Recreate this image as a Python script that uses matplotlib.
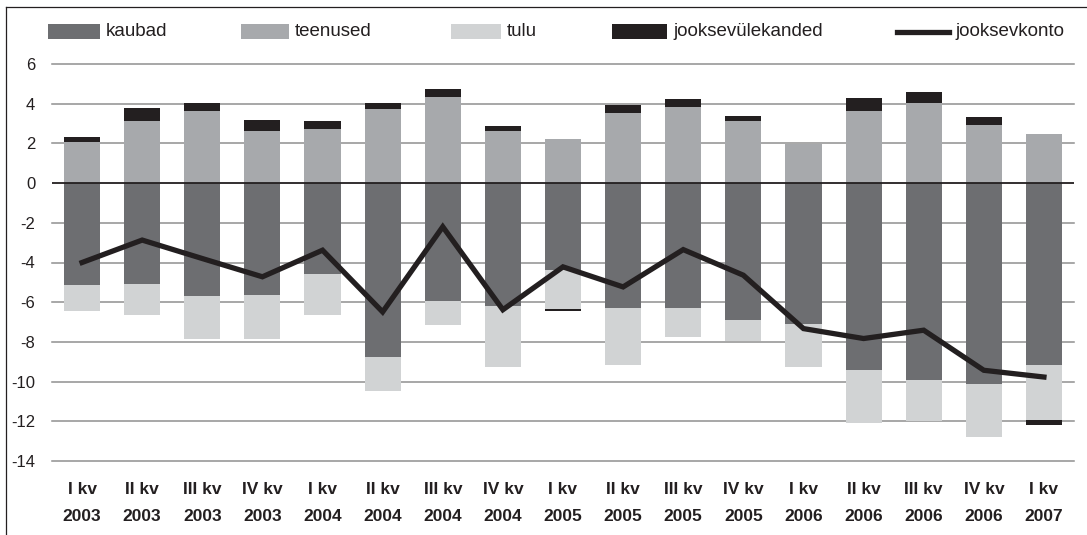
import matplotlib
matplotlib.use("Agg")
import matplotlib.pyplot as plt
from matplotlib.patches import Rectangle
from matplotlib.lines import Line2D
import numpy as np

plt.rcParams['font.family'] = ['Liberation Sans', 'DejaVu Sans']

quarters = ["I kv\n2003", "II kv\n2003", "III kv\n2003", "IV kv\n2003",
            "I kv\n2004", "II kv\n2004", "III kv\n2004", "IV kv\n2004",
            "I kv\n2005", "II kv\n2005", "III kv\n2005", "IV kv\n2005",
            "I kv\n2006", "II kv\n2006", "III kv\n2006", "IV kv\n2006",
            "I kv\n2007"]
kaubad = [-5.14, -5.09, -5.68, -5.63, -4.57, -8.77, -5.95, -6.19,
          -4.39, -6.30, -6.30, -6.91, -7.11, -9.43, -9.93, -10.14, -9.18]
teenused = [2.05, 3.14, 3.65, 2.64, 2.74, 3.75, 4.35, 2.64,
            2.22, 3.55, 3.85, 3.13, 1.97, 3.65, 4.03, 2.92, 2.47]
tulu = [-1.30, -1.55, -2.19, -2.24, -2.07, -1.70, -1.19, -3.07,
        -1.93, -2.86, -1.45, -1.04, -2.15, -2.66, -2.07, -2.65, -2.74]
jooksevylekanded = [0.29, 0.64, 0.38, 0.54, 0.39, 0.28, 0.39, 0.23,
                    -0.12, 0.38, 0.39, 0.25, 0.0, 0.64, 0.56, 0.41, -0.27]
jooksevkonto = [-4.0, -2.87, -3.8, -4.72, -3.38, -6.49, -2.2, -6.38,
                -4.22, -5.23, -3.35, -4.64, -7.33, -7.83, -7.41, -9.43, -9.77]
yticks = [6, 4, 2, 0, -2, -4, -6, -8, -10, -12, -14]

c_kaubad = "#6d6e71"
c_teenused = "#a7a9ac"
c_tulu = "#d1d3d4"
c_black = "#231f20"

W, H = 1087, 535
fig = plt.figure(figsize=(W / 100, H / 100), dpi=100)
ax = fig.add_axes([52 / W, 1 - 461 / H, (1074 - 52) / W, (461 - 64) / H])

x = np.arange(len(quarters))
kb = np.array(kaubad)
tb = np.array(teenused)
tl = np.array(tulu)
jy = np.array(jooksevylekanded)
jpos = np.where(jy > 0, jy, 0)
jneg = np.where(jy < 0, jy, 0)
bw = 0.6

ax.bar(x, kb, bw, color=c_kaubad, zorder=2)
ax.bar(x, tl, bw, bottom=kb, color=c_tulu, zorder=2)
ax.bar(x, tb, bw, color=c_teenused, zorder=2)
ax.bar(x, jpos, bw, bottom=tb, color=c_black, zorder=2)
ax.bar(x, jneg, bw, bottom=kb + tl, color=c_black, zorder=2)
ax.plot(x, jooksevkonto, color=c_black, lw=3.8, zorder=4,
        solid_joinstyle='miter')

ax.set_xlim(-0.5, len(quarters) - 0.5)
ax.set_ylim(-14, 6)
ax.set_yticks(yticks)
ax.set_yticklabels([str(v) for v in yticks], fontsize=12, color="#231f20")
ax.set_xticks(x)
ax.set_xticklabels(quarters, fontsize=12.5, fontweight='bold', color="#231f20",
                   linespacing=2.0)
ax.tick_params(axis='both', length=0)
ax.tick_params(axis='y', pad=12)
ax.tick_params(axis='x', pad=15)
for s in ax.spines.values():
    s.set_visible(False)
ax.set_axisbelow(True)
for v in yticks:
    if v != 0:
        ax.axhline(v, color="#8f8f8f", lw=1.1, zorder=0, clip_on=False)
ax.axhline(0, color=c_black, lw=1.3, zorder=3)

# legend
ly = 1 - 31.5 / H
lh = 15 / H
items = [(48, 52, c_kaubad, "kaubad", 'patch'),
         (241, 48, c_teenused, "teenused", 'patch'),
         (451, 50, c_tulu, "tulu", 'patch'),
         (612, 55, c_black, "jooksevülekanded", 'patch'),
         (897, 52, c_black, "jooksevkonto", 'line')]
for x0, w, col, lab, kind in items:
    if kind == 'patch':
        fig.add_artist(Rectangle((x0 / W, ly - lh / 2), w / W, lh,
                                 transform=fig.transFigure, color=col, lw=0))
    else:
        fig.add_artist(Line2D([x0 / W, (x0 + w) / W], [ly, ly],
                              transform=fig.transFigure, color=col, lw=3.8))
    fig.text((x0 + w + 6) / W, ly, lab, fontsize=13.5, color="#231f20",
             va='center', ha='left')

# frame (top and left edges)
fig.add_artist(Line2D([5.7 / W, 5.7 / W], [0, 1 - 7.3 / H],
                      transform=fig.transFigure, color="#231f20", lw=0.9))
fig.add_artist(Line2D([5.7 / W, 1], [1 - 7.3 / H, 1 - 7.3 / H],
                      transform=fig.transFigure, color="#231f20", lw=0.9))

fig.savefig("out.png", dpi=100, facecolor="white")
